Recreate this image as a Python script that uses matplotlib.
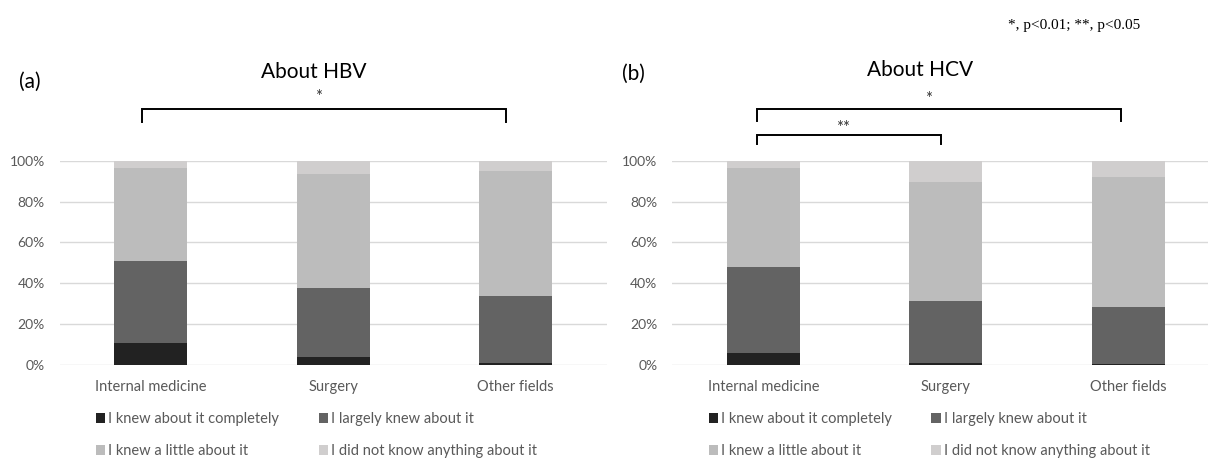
import matplotlib
matplotlib.use("Agg")
import matplotlib.pyplot as plt
from matplotlib.patches import Patch
import numpy as np

# Survey responses (% of respondents) by department
departments = ["Internal medicine", "Surgery", "Other fields"]
answer_labels = [
    "I knew about it completely",
    "I largely knew about it",
    "I knew a little about it",
    "I did not know anything about it",
]

hbv_completely = [10.9, 3.7, 0.8]
hbv_largely = [40.1, 33.8, 32.8]
hbv_little = [45.2, 56.0, 61.5]
hbv_nothing = [3.8, 6.5, 4.9]

hcv_completely = [6.1, 1.2, 0.5]
hcv_largely = [41.9, 29.9, 27.7]
hcv_little = [48.2, 58.3, 64.0]
hcv_nothing = [3.8, 10.6, 7.8]

colors = ["#222222", "#636363", "#bcbcbc", "#d0cece"]
text_gray = "#595959"
grid_gray = "#d9d9d9"

plt.rcParams["font.family"] = ["Lato", "DejaVu Sans"]

W, H = 1208, 458
fig = plt.figure(figsize=(W / 100, H / 100), dpi=100)


def px_axes(x0, x1, y_top, y_bot):
    return fig.add_axes([x0 / W, 1 - y_bot / H, (x1 - x0) / W, (y_bot - y_top) / H])


def draw_panel(ax, series, xmax):
    x = np.arange(len(departments))
    bottom = np.zeros(len(departments))
    handles = []
    for vals, col, lab in zip(series, colors, answer_labels):
        v = np.asarray(vals) / 100.0
        ax.bar(x, v, 0.4, bottom=bottom, color=col, linewidth=0, zorder=3)
        bottom += v
        handles.append(Patch(facecolor=col, edgecolor="none", label=lab))
    ax.set_xlim(-0.5, xmax)
    ax.set_ylim(0, 1)
    ax.set_yticks(np.linspace(0, 1, 6))
    ax.set_yticklabels([f"{int(t * 100)}%" for t in np.linspace(0, 1, 6)])
    ax.set_xticks(x)
    ax.set_xticklabels(departments)
    ax.tick_params(axis="both", length=0, colors=text_gray)
    ax.tick_params(axis="y", pad=10.5, labelsize=10)
    ax.tick_params(axis="x", pad=10.5, labelsize=10.5)
    for s in ax.spines.values():
        s.set_visible(False)
    ax.grid(axis="y", color=grid_gray, linewidth=1.0, zorder=0)
    ax.set_axisbelow(True)
    order = [0, 2, 1, 3]
    return [handles[i] for i in order]


def bracket(ax, x0, x1, y_top, y_bot, label, y_lab, x_lab):
    tr = ax.get_xaxis_transform()
    ax.plot([x0, x0, x1, x1], [y_bot, y_top, y_top, y_bot], color="black",
            linewidth=1.4, transform=tr, clip_on=False, solid_joinstyle="miter")
    ax.text(x_lab, y_lab, label, transform=tr, ha="center", va="center",
            fontsize=12, color="#333333")


ax_a = px_axes(59.5, 607, 160.7, 365)
ax_b = px_axes(672, 1208, 160.7, 365)

hdl_a = draw_panel(ax_a, [hbv_completely, hbv_largely, hbv_little, hbv_nothing], 2.5)
hdl_b = draw_panel(ax_b, [hcv_completely, hcv_largely, hcv_little, hcv_nothing], -0.5 + 536 / 182.6)

for ax, hdl, x0 in [(ax_a, hdl_a, 96.0), (ax_b, hdl_b, 708.5)]:
    ax.legend(handles=hdl, ncol=2, loc="upper left",
              bbox_to_anchor=(x0 / W, 1 - 412 / H), bbox_transform=fig.transFigure,
              frameon=False, fontsize=10.5, labelcolor=text_gray,
              handlelength=0.65, handleheight=0.65, handletextpad=0.2,
              columnspacing=2.7, labelspacing=1.25, borderpad=0, borderaxespad=0)

# significance brackets
bracket(ax_a, -0.05, 1.946, 1.2516, 1.191, "*", 1.31, 0.92)
bracket(ax_b, -0.036, 1.959, 1.2516, 1.1958, "*", 1.30, 0.904)
bracket(ax_b, -0.036, 0.9715, 1.1258, 1.0803, "**", 1.162, 0.435)

# titles and panel letters
fig.text(314 / W, 1 - 71.7 / H, "About HBV", ha="center", va="center", fontsize=15, color="black")
fig.text(920.5 / W, 1 - 70 / H, "About HCV", ha="center", va="center", fontsize=15, color="black")
fig.text(19 / W, 1 - 82 / H, "(a)", ha="left", va="center", fontsize=15, color="black")
fig.text(622 / W, 1 - 73.5 / H, "(b)", ha="left", va="center", fontsize=15, color="black")

fig.text(1140 / W, 1 - 25 / H, "*, p<0.01; **, p<0.05", ha="right", va="center",
         fontsize=11, family=["Liberation Serif", "DejaVu Serif"], color="black")

fig.savefig("out.png", dpi=100, facecolor="white")
